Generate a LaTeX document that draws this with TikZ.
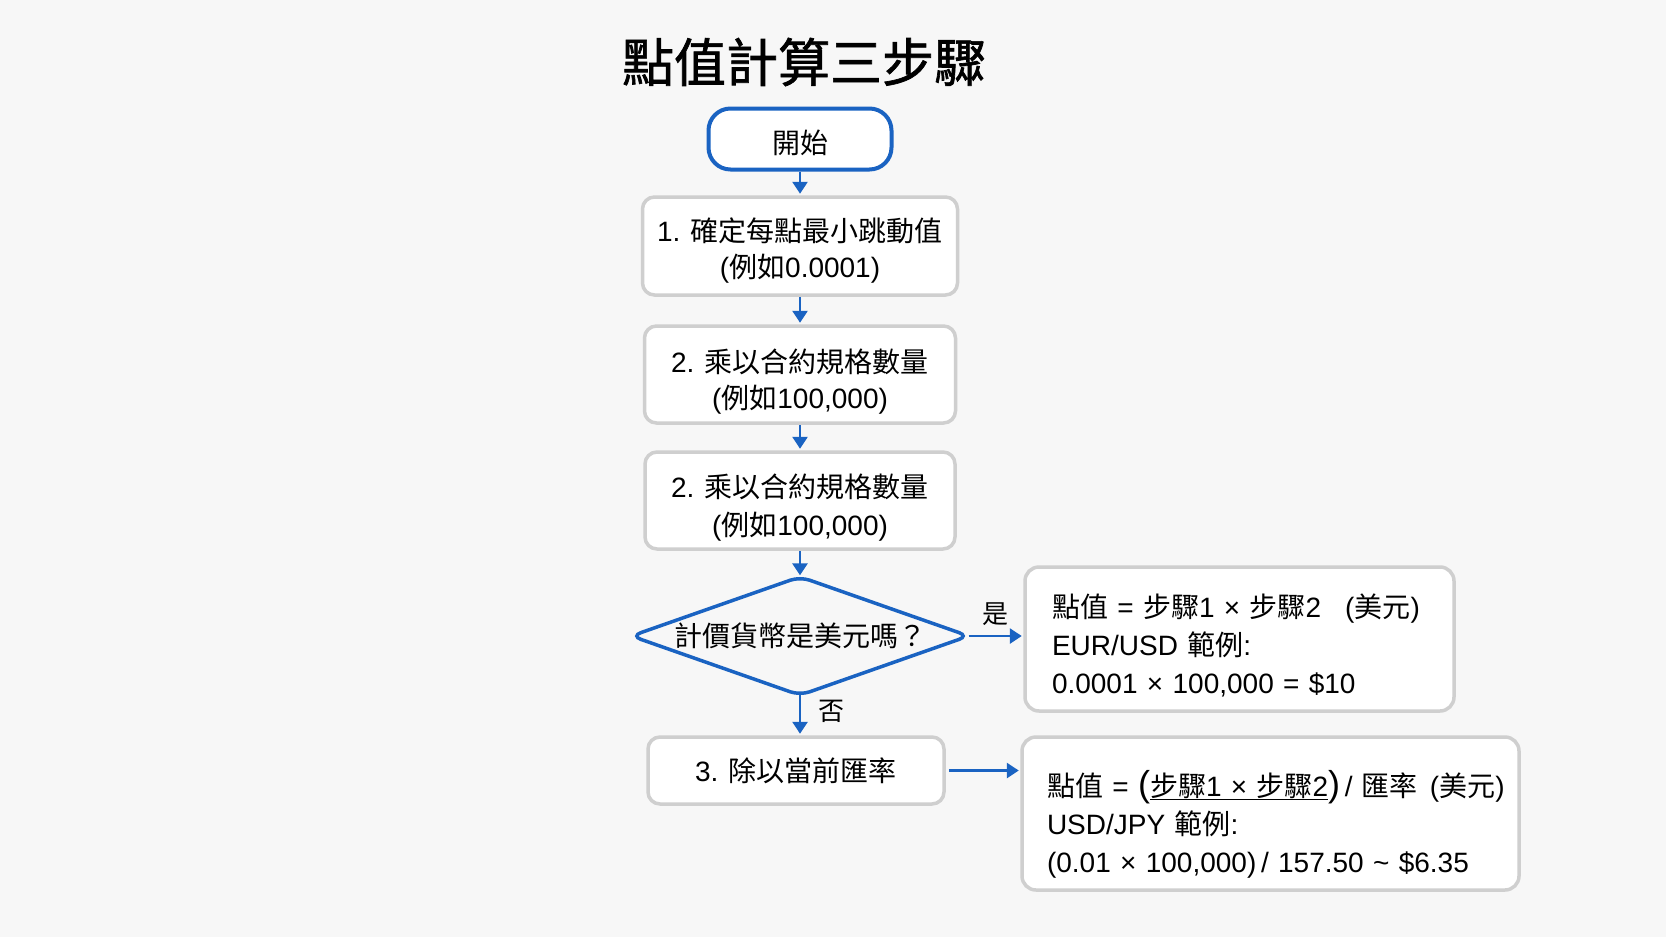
\documentclass[tikz,border=0pt]{standalone}
\usepackage{fontspec}
\setmainfont{Liberation Sans}
\newfontfamily\zhfont{Noto Sans CJK TC}
\newfontfamily\titlefont[FakeBold=1.3]{Noto Sans CJK TC}
\newcommand\zh[1]{{\zhfont #1}}
\newcommand\topstrut[1]{\rule{0pt}{#1}}
\usetikzlibrary{arrows.meta}
\definecolor{fcblue}{HTML}{1A63C2}
\definecolor{boxgray}{HTML}{CFCFCF}
\definecolor{bgc}{HTML}{F7F7F7}
\begin{document}
\begin{tikzpicture}[x=1pt,y=-1pt,
  every node/.style={font=\fontsize{28}{36}\selectfont},
  stepbox/.style={draw=boxgray, line width=3.5pt, fill=white, rounded corners=12pt, align=center, inner sep=0pt},
  infobox/.style={draw=boxgray, line width=3.5pt, fill=white, rounded corners=14pt, align=left, inner ysep=0pt,
                  font=\fontsize{28}{38}\selectfont},
  flow/.style={draw=fcblue, line width=2.8pt, -{Triangle[width=15pt,length=12pt]}},
  lbl/.style={font=\fontsize{26}{26}\selectfont}]
\fill[bgc] (0,0) rectangle (1666,937);
\useasboundingbox (0,0) rectangle (1666,937);

\node (title) at (804,62) {\fontsize{52}{52}\selectfont\titlefont 點值計算三步驟};

\node[draw=fcblue, line width=4pt, fill=white, rounded corners=22pt,
      minimum width=183pt, minimum height=61pt, inner sep=0pt] (start) at (800,139)
  {\topstrut{31pt}\zh{開始}};

\node[stepbox, minimum width=315pt, minimum height=98pt] (s1) at (800,246)
  {\topstrut{33pt}1. \zh{確定每點最小跳動值}\\(\zh{例如}0.0001)};
\node[stepbox, minimum width=311pt, minimum height=97pt] (s2) at (800,374.5)
  {\topstrut{38pt}2. \zh{乘以合約規格數量}\\(\zh{例如}100,000)};
\node[stepbox, minimum width=310pt, minimum height=97pt, font=\fontsize{28}{38}\selectfont] (s3) at (800,500.5)
  {\topstrut{37pt}2. \zh{乘以合約規格數量}\\(\zh{例如}100,000)};

\node[minimum width=337pt, minimum height=118pt, inner sep=0pt] (dia) at (800,636)
  {\zh{計價貨幣是美元嗎？}};
\draw[fcblue, line width=3.5pt, rounded corners=10pt]
  (dia.north) -- (dia.east) -- (dia.south) -- (dia.west) -- cycle;

\node[stepbox, minimum width=296pt, minimum height=67pt] (s4) at (796,770.5)
  {3. \zh{除以當前匯率}};

\node[infobox, text width=375pt, inner xsep=27pt, minimum height=144pt] (r1) at (1239.5,639)
  {\mbox{\topstrut{37pt}\zh{點值} = \zh{步驟}1 × \zh{步驟}2\hspace{24pt}(\zh{美元})}\\
   \mbox{EUR/USD \zh{範例}:}\\
   \mbox{0.0001 × 100,000 = \$10}};

\node[infobox, text width=447pt, inner xsep=25pt, minimum height=153pt] (r2) at (1270.5,813.5)
  {\mbox{\topstrut{47pt}\zh{點值} = {\fontsize{36}{36}\selectfont(}\underline{\zh{步驟}1 × \zh{步驟}2}{\fontsize{36}{36}\selectfont)}\,/ \zh{匯率}\hspace{12pt}(\zh{美元})}\\
   \mbox{USD/JPY \zh{範例}:}\\
   \mbox{(0.01 × 100,000)\,/ 157.50 \textasciitilde\ \$6.35}};

\draw[flow, shorten >=1.5pt] (start) -- (s1);
\draw[flow, shorten >=1.5pt] (s1) -- (s2);
\draw[flow, shorten >=1.5pt] (s2) -- (s3);
\draw[flow, shorten >=1.5pt] (s3) -- (dia.north);
\draw[flow, shorten >=1.5pt] (dia.east) -- (dia.east -| r1.west)
  node[midway, above=6pt, lbl] {\zh{是}};
\draw[flow, shorten >=1.5pt] (dia.south) -- (dia.south |- s4.north)
  node[midway, right=14pt, yshift=4pt, lbl] {\zh{否}};
\draw[flow, shorten <=3pt, shorten >=1.5pt] (s4.east) -- (s4.east -| r2.west);
\end{tikzpicture}
\end{document}
